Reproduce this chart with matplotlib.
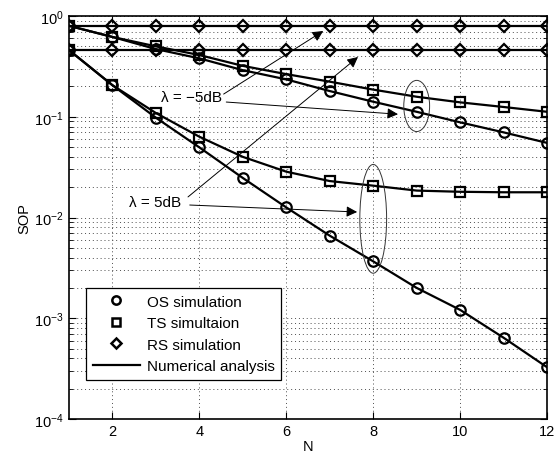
import numpy as np
import matplotlib.pyplot as plt
from matplotlib.patches import Ellipse
from matplotlib.lines import Line2D

plt.rcParams['font.family'] = ['Liberation Sans', 'DejaVu Sans']
plt.rcParams['mathtext.fontset'] = 'custom'
plt.rcParams['mathtext.rm'] = 'Liberation Sans'

N = np.arange(1, 13)

# lambda = -5 dB
os_m5 = [0.80, 0.62, 0.47, 0.38, 0.29, 0.235, 0.18, 0.141, 0.112, 0.088, 0.070, 0.055]
ts_m5 = [0.80, 0.62, 0.50, 0.41, 0.32, 0.265, 0.223, 0.186, 0.158, 0.139, 0.125, 0.112]
rs_m5 = [0.796] * 12

# lambda = 5 dB
os_p5 = [0.46, 0.206, 0.098, 0.0497, 0.0247, 0.0126, 0.0066, 0.00367, 0.0020, 0.00121, 0.00064, 0.000326]
ts_p5 = [0.46, 0.206, 0.109, 0.0634, 0.040, 0.0285, 0.023, 0.0207, 0.0185, 0.018, 0.0178, 0.0178]
rs_p5 = [0.46] * 12

fig = plt.figure(figsize=(5.6, 4.6), dpi=100)
ax = fig.add_axes([0.123, 0.087, 0.854, 0.876])

series = [(os_m5, 'o'), (ts_m5, 's'), (rs_m5, 'D'),
          (os_p5, 'o'), (ts_p5, 's'), (rs_p5, 'D')]
for vals, mk in series:
    ax.plot(N, vals, color='k', lw=1.6, zorder=3)
    ms = 6.3 if mk == 'D' else 7.5
    ax.plot(N, vals, ls='none', marker=mk, ms=ms, mfc='none', mec='k', mew=1.6, zorder=4)

ax.set_yscale('log')
ax.set_xlim(1, 12)
ax.set_ylim(1e-4, 1)
ax.set_xticks([2, 4, 6, 8, 10, 12])
ax.set_yticks([1e-4, 1e-3, 1e-2, 1e-1, 1])
ax.tick_params(which='both', direction='in', top=True, right=True, labelsize=10.5)
ax.tick_params(which='major', length=5)
ax.tick_params(which='minor', length=3)
ax.grid(True, which='major', ls=(0, (1, 3)), color='0.3', lw=0.7)
ax.grid(True, which='minor', axis='y', ls=(0, (1, 3)), color='0.3', lw=0.7)
for s in ax.spines.values():
    s.set_linewidth(1.2)

ax.set_xlabel('N', fontsize=10.5, labelpad=1)
ax.set_ylabel('SOP', fontsize=10.5, labelpad=2)

arr = dict(arrowstyle='-|>', lw=0.7, color='k', mutation_scale=16, shrinkA=0, shrinkB=0)

# lambda = -5 dB annotations
ax.text(3.81, 0.157, 'λ = −5dB', ha='center', va='center', fontsize=11)
ax.annotate('', xy=(6.85, 0.71), xytext=(4.56, 0.168), arrowprops=arr)
ax.annotate('', xy=(8.57, 0.106), xytext=(4.62, 0.14), arrowprops=arr)
ax.add_patch(Ellipse(((9 - 1) / 11, (np.log10(0.128) + 4) / 4), 0.054, 0.127,
                     transform=ax.transAxes, fill=False, ec='0.2', lw=0.7, zorder=5))

# lambda = 5 dB annotations
ax.text(2.98, 0.01426, 'λ = 5dB', ha='center', va='center', fontsize=11)
ax.annotate('', xy=(7.65, 0.392), xytext=(3.74, 0.016), arrowprops=arr)
ax.annotate('', xy=(7.63, 0.01134), xytext=(3.78, 0.0133), arrowprops=arr)
ax.add_patch(Ellipse(((8 - 1) / 11, (np.log10(0.0097) + 4) / 4), 0.056, 0.27,
                     transform=ax.transAxes, fill=False, ec='0.2', lw=0.7, zorder=5))

handles = [
    Line2D([], [], ls='none', marker='o', ms=6, mfc='none', mec='k', mew=1.8),
    Line2D([], [], ls='none', marker='s', ms=6, mfc='none', mec='k', mew=1.8),
    Line2D([], [], ls='none', marker='D', ms=5, mfc='none', mec='k', mew=1.8),
    Line2D([], [], color='k', lw=1.6),
]
labels = ['OS simulation', 'TS simultaion', 'RS simulation', 'Numerical analysis']
leg = ax.legend(handles, labels, loc='lower left', bbox_to_anchor=(0.036, 0.097),
                fontsize=11, fancybox=False, edgecolor='k', framealpha=1,
                borderpad=0.42, labelspacing=0.5, handlelength=3.1,
                handletextpad=0.45, borderaxespad=0)
leg.get_frame().set_linewidth(0.9)

fig.savefig('out.png', dpi=100)
